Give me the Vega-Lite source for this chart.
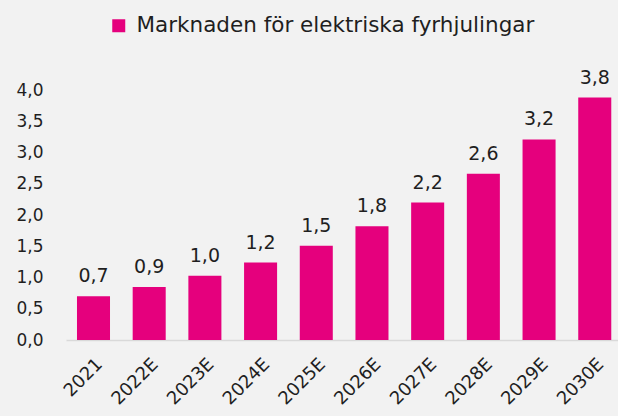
{
  "$schema": "https://vega.github.io/schema/vega-lite/v6.json",
  "width": 552,
  "height": 250,
  "autosize": {"type": "none"},
  "padding": {"left": 66, "top": 90, "right": 0, "bottom": 76},
  "background": "#F2F2F2",
  "config": {
    "view": {"stroke": null},
    "font": "DejaVu Sans",
    "locale": {"number": {"decimal": ",", "thousands": " ", "grouping": [3], "currency": ["", " kr"]}}
  },
  "data": {
    "values": [
      {"year": "2021", "value": 0.70, "label": "0,7", "series": "Marknaden för elektriska fyrhjulingar"},
      {"year": "2022E", "value": 0.85, "label": "0,9", "series": "Marknaden för elektriska fyrhjulingar"},
      {"year": "2023E", "value": 1.03, "label": "1,0", "series": "Marknaden för elektriska fyrhjulingar"},
      {"year": "2024E", "value": 1.24, "label": "1,2", "series": "Marknaden för elektriska fyrhjulingar"},
      {"year": "2025E", "value": 1.51, "label": "1,5", "series": "Marknaden för elektriska fyrhjulingar"},
      {"year": "2026E", "value": 1.82, "label": "1,8", "series": "Marknaden för elektriska fyrhjulingar"},
      {"year": "2027E", "value": 2.20, "label": "2,2", "series": "Marknaden för elektriska fyrhjulingar"},
      {"year": "2028E", "value": 2.66, "label": "2,6", "series": "Marknaden för elektriska fyrhjulingar"},
      {"year": "2029E", "value": 3.21, "label": "3,2", "series": "Marknaden för elektriska fyrhjulingar"},
      {"year": "2030E", "value": 3.88, "label": "3,8", "series": "Marknaden för elektriska fyrhjulingar"}
    ]
  },
  "encoding": {
    "x": {
      "field": "year",
      "type": "nominal",
      "sort": null,
      "title": null,
      "scale": {"paddingInner": 0.407, "paddingOuter": 0.159, "align": 0.62},
      "axis": {
        "labelAngle": -45,
        "labelFontSize": 18,
        "labelColor": "#1F1F1F",
        "labelPadding": 15,
        "ticks": false,
        "domainColor": "#D9D9D9",
        "domainWidth": 1.5
      }
    },
    "y": {
      "field": "value",
      "type": "quantitative",
      "title": null,
      "scale": {"domain": [0, 4], "nice": false},
      "axis": {
        "values": [0, 0.5, 1, 1.5, 2, 2.5, 3, 3.5, 4],
        "format": ".1f",
        "domain": false,
        "ticks": false,
        "grid": false,
        "labelFontSize": 17,
        "labelColor": "#1F1F1F",
        "labelPadding": 23
      }
    }
  },
  "layer": [
    {
      "mark": {"type": "bar"},
      "encoding": {
        "color": {
          "field": "series",
          "type": "nominal",
          "scale": {"range": ["#E5007D"]},
          "legend": {
            "title": null,
            "orient": "none",
            "legendX": 42,
            "legendY": -75,
            "symbolType": "square",
            "symbolSize": 169,
            "symbolStrokeWidth": 0,
            "labelFontSize": 21.5,
            "labelColor": "#1F1F1F",
            "labelLimit": 600,
            "labelOffset": 7
          }
        }
      }
    },
    {
      "mark": {"type": "text", "baseline": "alphabetic", "dy": -14, "fontSize": 19, "color": "#1F1F1F"},
      "encoding": {"text": {"field": "label"}}
    }
  ]
}
